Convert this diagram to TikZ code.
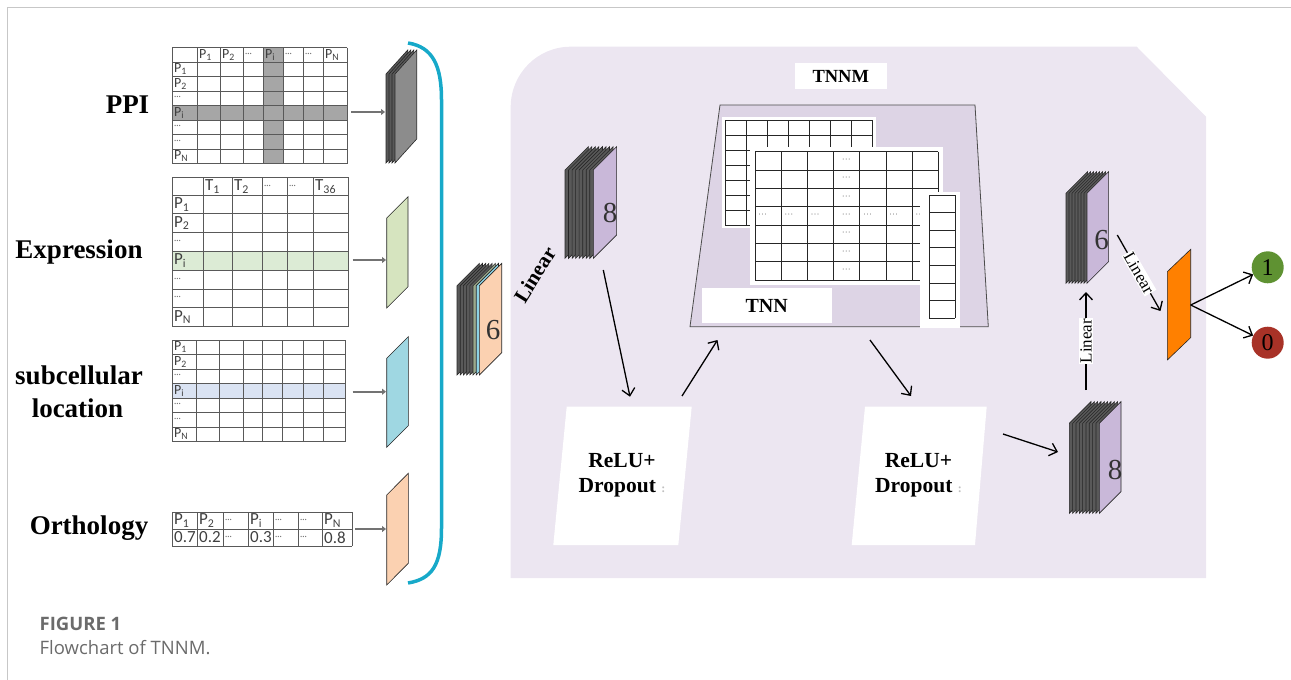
\documentclass[tikz,border=0pt]{standalone}
\usepackage{fontspec}
\setmainfont{Liberation Serif}
\newfontfamily\tabfont{Carlito}
\newfontfamily\capfont{Open Sans}
\usetikzlibrary{arrows.meta,positioning}

\definecolor{bgpurple}{HTML}{ECE6F1}
\definecolor{tnnfill}{HTML}{DDD4E5}
\definecolor{brcyan}{HTML}{17A9C9}
\definecolor{exprrow}{HTML}{DCEBD5}
\definecolor{subrow}{HTML}{DAE3F3}
\definecolor{exprslab}{HTML}{D6E4BF}
\definecolor{subslab}{HTML}{9FD7E2}
\definecolor{peach}{HTML}{FBD1B1}
\definecolor{stgreen}{HTML}{9BAA8C}
\definecolor{stcyan}{HTML}{8DD3E4}
\definecolor{lav}{HTML}{C9B8D9}
\definecolor{outorange}{HTML}{FF8000}
\definecolor{okgreen}{HTML}{5F9232}
\definecolor{nored}{HTML}{A83227}
\definecolor{capgray}{HTML}{6B6B6B}

% slab: left x, top y, bottom y, width, rise, fill
\newcommand{\slab}[6]{\filldraw[fill=#6, draw=black!85, line width=.6pt] (#1,#2) -- (#1+#4,#2-#5) -- (#1+#4,#3-#5) -- (#1,#3) -- cycle;}
\newcommand{\Pn}[1]{P\textsubscript{#1}}
\newcommand{\dts}{\textcolor{black!55}{\fontsize{9}{9}\selectfont\textperiodcentered\textperiodcentered\textperiodcentered}}

\begin{document}
\begin{tikzpicture}[x=1pt, y=-1pt,
  side/.style={font=\fontsize{27}{30}\selectfont\bfseries},
  cell/.style={anchor=west, inner sep=0pt, text=black!75, font=\tabfont\fontsize{14}{14}\selectfont},
  bigcell/.style={cell, font=\tabfont\fontsize{17}{17}\selectfont},
  tline/.style={draw=black!65, line width=.8pt},
  gline/.style={draw=black!85, line width=.8pt},
  feed/.style={draw=black!55, line width=2pt, -{Triangle[length=4pt,width=6pt]}},
  flow/.style={draw=black, line width=1.3pt, -{Straight Barb[length=7pt,width=13pt]}},
  num/.style={font=\fontsize{29}{29}\selectfont, text=black!80},
  bold/.style={font=\fontsize{21.5}{25}\selectfont\bfseries, align=center},
  lin/.style={font=\fontsize{17}{17}\selectfont, fill=white, inner sep=1pt},
  dot/.style={anchor=west, inner sep=0pt}]
\useasboundingbox (0,0) rectangle (1291,680);
\draw[black!22, line width=1.3pt] (7.3,680) -- (7.3,7.3) -- (1291,7.3);

% backdrop
\fill[bgpurple] (510.7,578) -- (510.7,107) .. controls (510.7,73.6) and (537.6,46.7) .. (570.7,46.7) -- (1136.7,46.7) -- (1206,116.7) -- (1206,578) -- cycle;

% input names
\path (127.5,105) node[side] (lppi) {PPI};
\path (79,252) node[side] (lexpr) {Expression};
\path (79,375) node[side] (lsub) {subcellular};
\path (77.5,408) node[side] (lloc) {location};
\path (89,528) node[side] (lorth) {Orthology};

% PPI table
\fill[gray!70] (172,105.5) rectangle (347,120);
\fill[gray!70] (263,47.5) rectangle (283,163.5);
\foreach \x in {172,197,220,243,263,283,303,323,347} \draw[tline] (\x,47.5) -- (\x,163.5);
\foreach \j in {0,...,8} \draw[tline] (172,47.5+14.5*\j) -- (347,47.5+14.5*\j);
\foreach \x/\t in {197/\Pn{1},220/\Pn{2},243/\dts,263/\Pn{i},283/\dts,303/\dts,323/\Pn{N}} \path (\x+2,54.75) node[cell] {\t};
\foreach \j/\t in {1/\Pn{1},2/\Pn{2},3/\dts,4/\Pn{i},5/\dts,6/\dts,7/\Pn{N}} \path (174,54.75+14.5*\j) node[cell] {\t};

% expression table
\fill[exprrow] (172,251.4) rectangle (348,270.2);
\foreach \x in {172,203,232,262,287,313,348} \draw[tline] (\x,177.3) -- (\x,326.6);
\draw[tline] (172,177.3) -- (348,177.3);
\foreach \j in {0,...,7} \draw[tline] (172,195+18.8*\j) -- (348,195+18.8*\j);
\foreach \x/\t in {203/T\textsubscript{1},232/T\textsubscript{2},262/\dts,287/\dts,313/T\textsubscript{36}} \path (\x+2,186.5) node[bigcell] {\t};
\foreach \j/\t in {1/\Pn{1},2/\Pn{2},3/\dts,4/\Pn{i},5/\dts,6/\dts,7/\Pn{N}} \path (174,195+18.8*\j-9.4) node[bigcell] {\t};

% subcellular table
\fill[subrow] (172,383.5) rectangle (345,398);
\foreach \x in {172,196,219,243,262,282,303,323,345} \draw[tline] (\x,340) -- (\x,441.5);
\foreach \j in {0,...,7} \draw[tline] (172,340+14.5*\j) -- (345,340+14.5*\j);
\foreach \j/\t in {0/\Pn{1},1/\Pn{2},2/\dts,3/\Pn{i},4/\dts,5/\dts,6/\Pn{N}} \path (174,340+14.5*\j+7.25) node[cell] {\t};

% orthology table
\foreach \x in {172,197,223,248,273,298,322,352} \draw[tline] (\x,512) -- (\x,546);
\foreach \y in {512,529,546} \draw[tline] (172,\y) -- (352,\y);
\foreach \x/\t in {172/\Pn{1},197/\Pn{2},223/\dts,248/\Pn{i},273/\dts,298/\dts,322/\Pn{N}} \path (\x+2,520.5) node[bigcell] {\t};
\foreach \x/\t in {172/0.7,197/0.2,223/\dts,248/0.3,273/\dts,298/\dts,322/0.8} \path (\x+2,537.5) node[bigcell] {\t};

% input slabs
\foreach \k/\c in {0/black!65,1/black!65,2/black!65,3/black!45} {\slab{386+3*\k}{74}{163}{21.7}{24}{\c}}
\slab{386.7}{218}{308}{21.3}{21.3}{exprslab}
\slab{386.7}{358.3}{447.3}{21.6}{21.6}{subslab}
\slab{386.7}{495}{585}{21.6}{21.7}{peach}

\coordinate (ppiout) at (351,112);   \coordinate (ppiin) at (385,112);
\coordinate (exprout) at (352.7,260); \coordinate (exprin) at (386,260);
\coordinate (subout) at (352.7,391.7); \coordinate (subin) at (386,391.7);
\coordinate (orthout) at (355,529);  \coordinate (orthin) at (386,529);
\draw[feed] (ppiout) -- (ppiin);
\draw[feed] (exprout) -- (exprin);
\draw[feed] (subout) -- (subin);
\draw[feed] (orthout) -- (orthin);

% bracket
\draw[brcyan, line width=3.5pt] (408,43) .. controls (433,47) and (441.5,66) .. (441.5,100) -- (441.5,528) .. controls (441.5,565) and (432,579) .. (408,583);

% concatenated stack
\foreach \k/\c in {0/black!65,1/black!65,2/black!65,3/black!65,4/black!65,5/stgreen,6/stcyan,7/peach} {\slab{457+3.2*\k}{285.7}{375}{22.3}{22.3}{\c}}
\path (493,330) node[num] (six) {6};
\path (535,275) node[rotate=58, inner sep=0pt, font=\fontsize{21}{21}\selectfont\bfseries] (linA) {Linear};

% hidden stack 8
\foreach \k in {0,...,7} {\slab{565+3.54*\k}{170}{258.3}{23.3}{23.3}{black!65}}
\slab{593.3}{170}{258.3}{23.3}{23.3}{lav}
\path (610,213) node[num] (eightA) {8};

% TNNM block
\path (840.8,76.3) node[fill=white, minimum width=91.7, minimum height=26, font=\fontsize{18.5}{18.5}\selectfont\bfseries] (tnnm) {TNNM};
\filldraw[fill=tnnfill, draw=black!70, line width=.8pt] (720,105) -- (975,105) -- (988.3,326.7) -- (690,326.7) -- cycle;
\fill[white] (722,117) rectangle (876,228);
\foreach \k in {0,...,7} \draw[gline] (725+21*\k,120) -- (725+21*\k,225);
\foreach \k in {0,...,7} \draw[gline] (725,120+15*\k) -- (872,120+15*\k);
\fill[white] (750,147) rectangle (943,285);
\foreach \k in {0,...,7} \draw[gline] (755+26.2*\k,151.7) -- (755+26.2*\k,280);
\foreach \k in {0,...,7} \draw[gline] (755,151.7+18.33*\k) -- (938.3,151.7+18.33*\k);
\foreach \j in {0,...,6} \path (841.6,151.7+18.33*\j+9.2) node[dot] {\dts};
\foreach \k in {0,1,2,4,5,6} \path (755+26.2*\k+3,151.7+18.33*3.5) node[dot] {\dts};
\fill[white] (920,191.7) rectangle (960,328.3);
\foreach \x in {929.3,955} \draw[gline] (\x,195) -- (\x,318.3);
\foreach \k in {0,...,7} \draw[gline] (929.3,195+17.6*\k) -- (955,195+17.6*\k);
\path (766.7,305.8) node[fill=white, minimum width=130, minimum height=35, font=\fontsize{20}{20}\selectfont\bfseries] (tnn) {TNN};

% ReLU + Dropout
\fill[white] (566.7,406.7) -- (691.7,406.7) -- (678.3,545) -- (553.3,545) -- cycle;
\path (622,475) node[bold] (reluA) {ReLU+\\Dropout \textcolor{black!25}{\fontsize{12}{12}\selectfont:}};
\fill[white] (865,406.7) -- (986.7,406.7) -- (975,545) -- (851.7,545) -- cycle;
\path (918.5,475) node[bold] (reluB) {ReLU+\\Dropout \textcolor{black!25}{\fontsize{12}{12}\selectfont:}};

% output stacks
\foreach \k in {0,...,8} {\slab{1069.3+3.33*\k}{423.3}{513.3}{21.7}{21.7}{black!65}}
\slab{1099.3}{423.3}{513.3}{21.7}{21.7}{lav}
\path (1115,470) node[num] (eightB) {8};
\foreach \k in {0,...,6} {\slab{1066+3*\k}{193.3}{283.3}{21.6}{21.6}{black!65}}
\slab{1087}{193.3}{283.3}{21.6}{21.6}{lav}
\path (1101.7,240) node[num] (sixB) {6};
\slab{1167.3}{271.7}{360}{23.4}{22.4}{outorange}

\node[circle, fill=okgreen, minimum size=32, inner sep=0pt, font=\fontsize{24}{24}\selectfont] (one) at (1267.7,267.3) {1};
\node[circle, fill=nored, minimum size=32, inner sep=0pt, font=\fontsize{24}{24}\selectfont] (zero) at (1267.7,342.7) {0};

% connectors
\coordinate (eightAout) at (603.3,270); \coordinate (reluAin) at (630,396.7);
\coordinate (reluAout) at (682,396);   \coordinate (tnnin) at (717.5,340);
\coordinate (tnnout) at (870,340);     \coordinate (reluBin) at (911,396);
\coordinate (reluBout) at (1003,434);  \coordinate (eightBin) at (1058,452);
\coordinate (eightBout) at (1086,390); \coordinate (sixBin) at (1086,292);
\coordinate (sixBout) at (1117.3,235); \coordinate (outin) at (1160.5,311);
\coordinate (outmid) at (1190.7,305);
\draw[flow] (eightAout) -- (reluAin);
\draw[flow] (reluAout) -- (tnnin);
\draw[flow] (tnnout) -- (reluBin);
\draw[flow] (reluBout) -- (eightBin);
\draw[flow] (eightBout) -- node[lin, rotate=90] {Linear} (sixBin);
\draw[flow] (sixBout) -- node[lin, rotate=-60] {Linear} (outin);
\draw[flow] (outmid) -- (one);
\draw[flow] (outmid) -- (zero);

% caption
\path (39.5,624) node[anchor=west, inner sep=0pt, text=capgray, font=\capfont\bfseries\fontsize{18.5}{18.5}\selectfont] (figno) {FIGURE 1};
\path (39.5,648) node[anchor=west, inner sep=0pt, text=capgray, font=\capfont\fontsize{18.5}{18.5}\selectfont] (figcap) {Flowchart of TNNM.};
\end{tikzpicture}
\end{document}
